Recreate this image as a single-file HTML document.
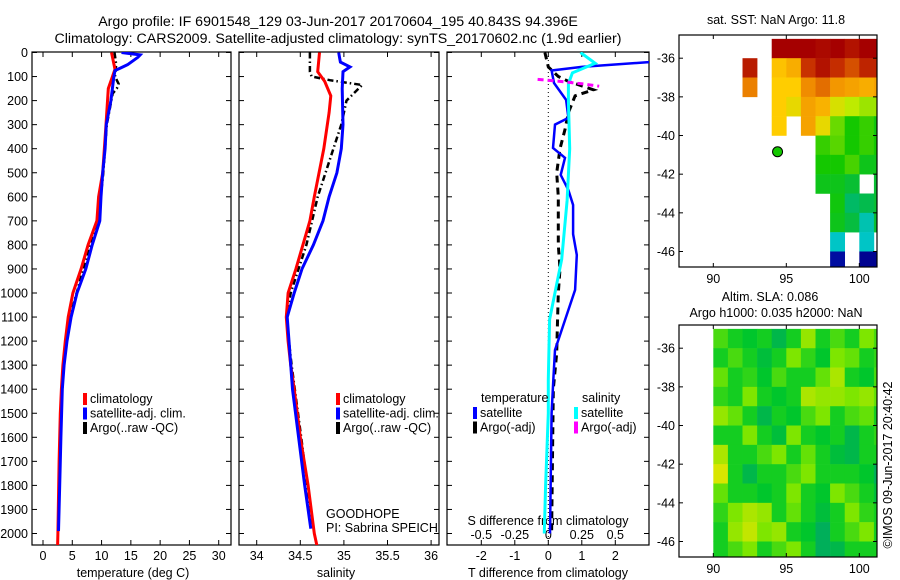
<!DOCTYPE html>
<html><head><meta charset="utf-8">
<style>
html,body{margin:0;padding:0;background:#fff;}
svg{display:block;font-family:"Liberation Sans",sans-serif;}
text{font-size:12.5px;fill:#000;}
.big{font-size:14.2px;}
</style></head>
<body>
<svg id="fig" width="900" height="580" viewBox="0 0 900 580" xmlns="http://www.w3.org/2000/svg">
<text class="big" x="338" y="26" text-anchor="middle">Argo profile: IF 6901548_129 03-Jun-2017 20170604_195 40.843S 94.396E</text>
<text class="big" x="338" y="43" text-anchor="middle">Climatology: CARS2009. Satellite-adjusted climatology: synTS_20170602.nc (1.9d earlier)</text>
<text x="776" y="24" text-anchor="middle">sat. SST: NaN Argo: 11.8</text>
<text x="770" y="301" text-anchor="middle">Altim. SLA: 0.086</text>
<text x="776" y="317" text-anchor="middle">Argo h1000: 0.035 h2000: NaN</text>
<text transform="translate(892,465) rotate(-90)" text-anchor="middle">©IMOS 09-Jun-2017 20:40:42</text>
<g id="layer"></g>
</svg>
<script>
// ---------- data ----------
const tempClimDepth = [0,70,150,300,500,600,700,800,900,1000,1100,1200,1300,1400,1500,1700,2000,2050];
const tempClim      = [11.7,12.3,11.15,10.75,10.2,9.5,9.2,7.7,6.5,5.1,4.3,3.8,3.4,3.15,2.95,2.75,2.55,2.5];
const tempSatDepth  = [0,10,20,50,65,75,100,200,300,400,500,600,700,800,900,1000,1100,1200,1300,1400,1600,1800,1990];
const tempSat       = [13.4,16.6,16.2,14.5,13.2,12.3,12.1,11.6,10.8,10.6,10.2,9.9,9.7,8.4,7.3,5.8,4.8,4.1,3.6,3.3,3.05,2.85,2.65];
const tempArgoDepth = [0,50,100,130,150,170,300,500,700,900,1100,1300,1500,1800,1970];
const tempArgo      = [12.2,12.5,12.3,12.9,12.6,11.9,10.9,10.3,9.4,6.9,4.6,3.5,3.1,2.8,2.6];

const salClimDepth = [0,80,120,180,250,400,600,700,800,900,1000,1100,1200,1300,1400,1600,1800,2000,2050];
const salClim      = [34.72,34.70,34.78,34.85,34.83,34.77,34.66,34.61,34.53,34.45,34.36,34.34,34.36,34.39,34.43,34.50,34.59,34.66,34.69];
const salSatDepth  = [0,20,40,60,80,150,300,400,500,600,700,800,900,1000,1100,1200,1400,1600,1800,1980];
const salSat       = [34.94,34.95,34.96,35.07,34.99,34.98,34.99,34.97,34.92,34.83,34.76,34.65,34.52,34.43,34.35,34.37,34.41,34.48,34.55,34.62];
const salArgoDepth = [0,80,100,115,135,200,300,400,600,800,1000,1100,1300,1600,1800,1960];
const salArgo      = [34.61,34.61,34.63,34.84,35.21,35.03,34.97,34.88,34.70,34.57,34.39,34.34,34.40,34.51,34.58,34.64];

const dTSatDepth  = [0,40,60,75,127,197,272,300,397,438,509,572,634,755,842,987,1237,1362,1500,2000];
const dTSat       = [5,3.0,1.0,0.1,0.17,0.53,0.6,0.2,0.14,0.5,0.37,0.6,0.74,0.74,0.85,0.8,0.2,0.15,0.1,0.05];
const dTArgoDepth = [0,30,60,100,120,155,180,250,320,400,500,600,800,900,1000,1150,1250,1400,2000];
const dTArgo      = [-0.1,-0.05,0.0,0.3,0.6,1.35,0.8,0.6,0.5,0.35,0.25,0.3,0.3,0.35,0.3,0.27,0.25,0.15,0.1];
const dSSatDepth  = [0,45,85,130,200,400,616,860,1110,1360,1500,1800,2000];
const dSSat       = [0.24,0.35,0.18,0.15,0.15,0.16,0.14,0.10,0.01,0.0,0.0,-0.02,-0.03];
const dSArgoDepth = [112,118,124,130,140];
const dSArgo      = [-0.08,0.05,0.15,0.25,0.38];

const depthTicks = [0,100,200,300,400,500,600,700,800,900,1000,1100,1200,1300,1400,1500,1600,1700,1800,1900,2000];
const tempTicks = [0,5,10,15,20,25,30];
const salTicks = [34,34.5,35,35.5,36];
const salTickLabels = ['34','34.5','35','35.5','36'];
const dTTicks = [-2,-1,0,1,2];
const dSTicks = [-0.5,-0.25,0,0.25,0.5];
const dSTickLabels = ['-0.5','-0.25','0','0.25','0.5'];
const latTicks = [-36,-38,-40,-42,-44,-46];
const lonTicks = [90,95,100];

const sstLats = [-35,-36,-37,-38,-39,-40,-41,-42,-43,-44,-45,-46];
const sstLons = [88,89,90,91,92,93,94,95,96,97,98,99,100,101];
const N = null;
const sstGrid = [
 [N,N,N,N,N,N,16.6,16.6,16.6,16.4,16.6,16.2,16.6,16.6],
 [N,N,N,N,16,N,13,13.4,15.5,16.2,15.6,15,15.8,15.8],
 [N,N,N,N,14.2,N,12.8,12.8,14,14.5,13.8,13.6,13.4,13.6],
 [N,N,N,N,N,N,12.8,12.5,13.6,13.3,12.3,12,11.8,11.8],
 [N,N,N,N,N,N,12.8,N,13.6,12.5,11.5,11,11.2,10.9],
 [N,N,N,N,N,N,N,N,N,11.2,11.4,11,11.2,11],
 [N,N,N,N,N,N,N,N,N,11,11,11.3,10.8,10.8],
 [N,N,N,N,N,N,N,N,N,10.8,10.8,10.6,N,10.6],
 [N,N,N,N,N,N,N,N,N,N,10.9,10.2,10.4,10.6],
 [N,N,N,N,N,N,N,N,N,N,10.8,10.5,9.5,10.6],
 [N,N,N,N,N,N,N,N,N,N,9.3,N,9.3,N],
 [N,N,N,N,N,N,N,N,N,N,6,N,5.6,5.6]
];
const argoLon = [94.4];
const argoLat = [-40.84];
const argoSST = [11.0];

const slaLats = [-35,-36,-37,-38,-39,-40,-41,-42,-43,-44,-45,-46];
const slaLons = [90,91,92,93,94,95,96,97,98,99,100,101];
const slaGrid = [
 [.08,.06,.05,.06,.03,.06,.11,.06,.08,.06,.10,.08],
 [.06,.08,.06,.04,.06,.10,.07,.05,.10,.09,.06,.07],
 [.09,.06,.07,.05,.08,.06,.06,.09,.12,.06,.05,.08],
 [.07,.06,.10,.06,.05,.06,.12,.11,.11,.10,.11,.09],
 [.11,.09,.06,.03,.06,.05,.08,.10,.06,.08,.09,.06],
 [.06,.06,.10,.06,.04,.10,.06,.05,.06,.03,.06,.07],
 [.12,.06,.06,.08,.10,.06,.09,.06,.04,.03,.06,.06],
 [.14,.06,.03,.06,.06,.08,.10,.06,.06,.06,.05,.02],
 [.09,.06,.06,.05,.06,.10,.06,.05,.10,.08,.06,.04],
 [.07,.10,.12,.11,.06,.09,.06,.04,.06,.10,.07,.06],
 [.06,.11,.13,.10,.11,.06,.05,.02,.06,.08,.10,.06],
 [.06,.08,.10,.06,.08,.10,.06,.02,.03,.06,.06,.06]
];

// ---------- helpers ----------
const NS='http://www.w3.org/2000/svg';
const layer=document.getElementById('layer');
function mk(tag,attrs,parent){const e=document.createElementNS(NS,tag);for(const k in attrs)e.setAttribute(k,attrs[k]);(parent||layer).appendChild(e);return e;}
const yD = d => 52.5 + d*0.2405;
const P1={x0:32,x1:231,y0:52,y1:545}, P2={x0:239,x1:439,y0:52,y1:545}, P3={x0:447,x1:649,y0:52,y1:545};
const xT = t => 43 + t*5.857;
const xS = s => 256.7 + (s-34)*87.2;
const xDT = t => 548.3 + t*33.5;
const xDS = s => xDT(s*4);

function clip(id,P){const c=mk('clipPath',{id:id});mk('rect',{x:P.x0,y:P.y0,width:P.x1-P.x0,height:P.y1-P.y0},c);}
clip('c1',P1);clip('c2',P2);clip('c3',P3);
function line(xs,ds,fx,color,w,dash,cp,name){
  const p=mk('polyline',{points:xs.map((v,i)=>fx(v).toFixed(1)+','+yD(ds[i]).toFixed(1)).join(' '),fill:'none',stroke:color,'stroke-width':w,'clip-path':'url(#'+cp+')'});
  if(dash)p.setAttribute('stroke-dasharray',dash);
  
  
}
function frame(P,name){
  const r=mk('rect',{x:P.x0,y:P.y0,width:P.x1-P.x0,height:P.y1-P.y0,fill:'none',stroke:'#000','stroke-width':1.2});
  
  
  depthTicks.forEach(d=>{const y=yD(d);mk('line',{x1:P.x0,x2:P.x0+5,y1:y,y2:y,stroke:'#000'});mk('line',{x1:P.x1,x2:P.x1-5,y1:y,y2:y,stroke:'#000'});});
}
function xticks(P,vals,labels,fx,ly,name){
  vals.forEach((v,i)=>{const x=fx(v);mk('line',{x1:x,x2:x,y1:P.y1,y2:P.y1-5,stroke:'#000'});mk('line',{x1:x,x2:x,y1:P.y0,y2:P.y0+5,stroke:'#000'});
    const t=mk('text',{x:x,y:ly,'text-anchor':'middle'});t.textContent=labels[i];
    
    });
}
function txt(x,y,s,name,anchor){const t=mk('text',{x:x,y:y,'text-anchor':anchor||'start'});t.textContent=s;
  
  return t;}

// panel 1 temperature
frame(P1,'temperature-plot-frame');
depthTicks.forEach(d=>{txt(28,yD(d)+4.5,String(d),'depth-tick-label','end');});
xticks(P1,tempTicks,tempTicks.map(String),xT,560,'temperature-tick-label');
txt(133,577,'temperature (deg C)','temperature-axis-title','middle');
line(tempArgo,tempArgoDepth,xT,'#000',2.5,'6 3 1.5 3','c1','temp-argo-line');
line(tempClim,tempClimDepth,xT,'#f00',3,null,'c1','temp-climatology-line');
line(tempSat,tempSatDepth,xT,'#00f',3,null,'c1','temp-satellite-line');
function legend(x,y,items,name){items.forEach((it,i)=>{mk('rect',{x:x,y:y+i*14.5-9,width:4,height:12,fill:it[0]});txt(x+7,y+i*14.5+1,it[1],name);});}
legend(83,402,[['#f00','climatology'],['#00f','satellite-adj. clim.'],['#000','Argo(..raw -QC)']],'temperature-legend-entry');

// panel 2 salinity
frame(P2,'salinity-plot-frame');
xticks(P2,salTicks,salTickLabels,xS,560,'salinity-tick-label');
txt(336,577,'salinity','salinity-axis-title','middle');
line(salArgo,salArgoDepth,xS,'#000',2.5,'6 3 1.5 3','c2','sal-argo-line');
line(salClim,salClimDepth,xS,'#f00',3,null,'c2','sal-climatology-line');
line(salSat,salSatDepth,xS,'#00f',3,null,'c2','sal-satellite-line');
legend(336,402,[['#f00','climatology'],['#00f','satellite-adj. clim.'],['#000','Argo(..raw -QC)']],'salinity-legend-entry');
txt(326,518,'GOODHOPE','float-project-label');
txt(326,532,'PI: Sabrina SPEICH','float-pi-label');

// panel 3 differences
frame(P3,'difference-plot-frame');
mk('line',{x1:xDT(0),x2:xDT(0),y1:P3.y0,y2:P3.y1,stroke:'#000','stroke-dasharray':'1 3'});
xticks(P3,dTTicks,dTTicks.map(String),xDT,560,'t-diff-tick-label');
txt(548,577,'T difference from climatology','t-diff-axis-title','middle');
dSTicks.forEach((v,i)=>{txt(xDS(v),539,dSTickLabels[i],'s-diff-tick-label','middle');});
txt(548,525,'S difference from climatology','s-diff-axis-title','middle');
line(dTArgo,dTArgoDepth,xDT,'#000',3,'7 5','c3','t-diff-argo-line');
line(dTSat,dTSatDepth,xDT,'#00f',2.5,null,'c3','t-diff-satellite-line');
line(dSSat,dSSatDepth,xDS,'#0ff',3,null,'c3','s-diff-satellite-line');
line(dSArgo,dSArgoDepth,xDS,'#f0f',3,'6 4','c3','s-diff-argo-line');
txt(481,402,'temperature','diff-legend-temperature-header');
txt(582,402,'salinity','diff-legend-salinity-header');
legend(473,416,[['#00f','satellite'],['#000','Argo(-adj)']],'diff-legend-temperature-entry');
legend(574,416,[['#0ff','satellite'],['#f0f','Argo(-adj)']],'diff-legend-salinity-entry');

// maps
const sstStops=[[5.5,[0,0,140]],[7,[0,40,200]],[9,[0,200,230]],[10.3,[0,185,90]],[11,[20,200,0]],[12,[190,235,0]],[12.8,[255,205,0]],[14,[240,140,0]],[15.5,[200,50,0]],[16.6,[165,0,0]]];
function sstColor(v){
  if(v<=sstStops[0][0])return 'rgb('+sstStops[0][1].join(',')+')';
  for(let k=1;k<sstStops.length;k++){if(v<=sstStops[k][0]){const a=sstStops[k-1],b=sstStops[k],f=(v-a[0])/(b[0]-a[0]);return 'rgb('+a[1].map((c,n)=>Math.round(c+(b[1][n]-c)*f)).join(',')+')';}}
  return 'rgb(165,0,0)';}
function mapAxes(M,name){
  const xL=lo=>M.x0+(lo-87.65)*14.6, yL=la=>M.yTop+(-34.8-la)*19.33;
  M.xL=xL;M.yL=yL;
  const c=mk('clipPath',{id:name+'-clip'});mk('rect',{x:M.x0,y:M.yTop,width:M.x1-M.x0,height:M.yBot-M.yTop},c);
  M.g=mk('g',{'clip-path':'url(#'+name+'-clip)'});
  
  
  return M;
}
function mapFrame(M,name){
  const r=mk('rect',{x:M.x0,y:M.yTop,width:M.x1-M.x0,height:M.yBot-M.yTop,fill:'none',stroke:'#000','stroke-width':1.2});
  
  
  latTicks.forEach(la=>{const y=M.yL(la);mk('line',{x1:M.x0,x2:M.x0+4,y1:y,y2:y,stroke:'#000'});mk('line',{x1:M.x1,x2:M.x1-4,y1:y,y2:y,stroke:'#000'});txt(M.x0-4,y+4.5,String(la),name+'-lat-label','end');});
  lonTicks.forEach(lo=>{const x=M.xL(lo);mk('line',{x1:x,x2:x,y1:M.yBot,y2:M.yBot-4,stroke:'#000'});mk('line',{x1:x,x2:x,y1:M.yTop,y2:M.yTop+4,stroke:'#000'});txt(x,M.yBot+16,String(lo),name+'-lon-label','middle');});
}
const M1=mapAxes({x0:679,x1:877,yTop:35,yBot:267},'sst-map');
sstGrid.forEach((row,i)=>row.forEach((v,j)=>{if(v===null)return;
  const x=M1.xL(sstLons[j]),y=M1.yL(sstLats[i]);
  const r=mk('rect',{x:x,y:y,width:14.9,height:19.6,fill:sstColor(v)},M1.g);
  
  }));
mapFrame(M1,'sst-map');
const dot=mk('circle',{cx:M1.xL(argoLon[0]),cy:M1.yL(argoLat[0]),r:5,fill:sstColor(argoSST[0]),stroke:'#000'});



const M2=mapAxes({x0:679,x1:877,yTop:325,yBot:557},'sla-map');
function slaColor(v){const t=Math.max(0,Math.min(1,(v-0.0)/0.15));
  const stops=[[0,[0,160,120]],[0.35,[0,200,40]],[0.65,[120,230,0]],[1,[240,230,0]]];
  for(let k=1;k<stops.length;k++){if(t<=stops[k][0]){const a=stops[k-1],b=stops[k],f=(t-a[0])/(b[0]-a[0]);return 'rgb('+a[1].map((c,n)=>Math.round(c+(b[1][n]-c)*f)).join(',')+')';}}
  return 'rgb(240,230,0)';}
slaGrid.forEach((row,i)=>row.forEach((v,j)=>{
  const x=M2.xL(slaLons[j]),y=M2.yL(slaLats[i]);
  const r=mk('rect',{x:x,y:y,width:14.9,height:19.6,fill:slaColor(v)},M2.g);
  
  }));
mapFrame(M2,'sla-map');
</script>
</body></html>
